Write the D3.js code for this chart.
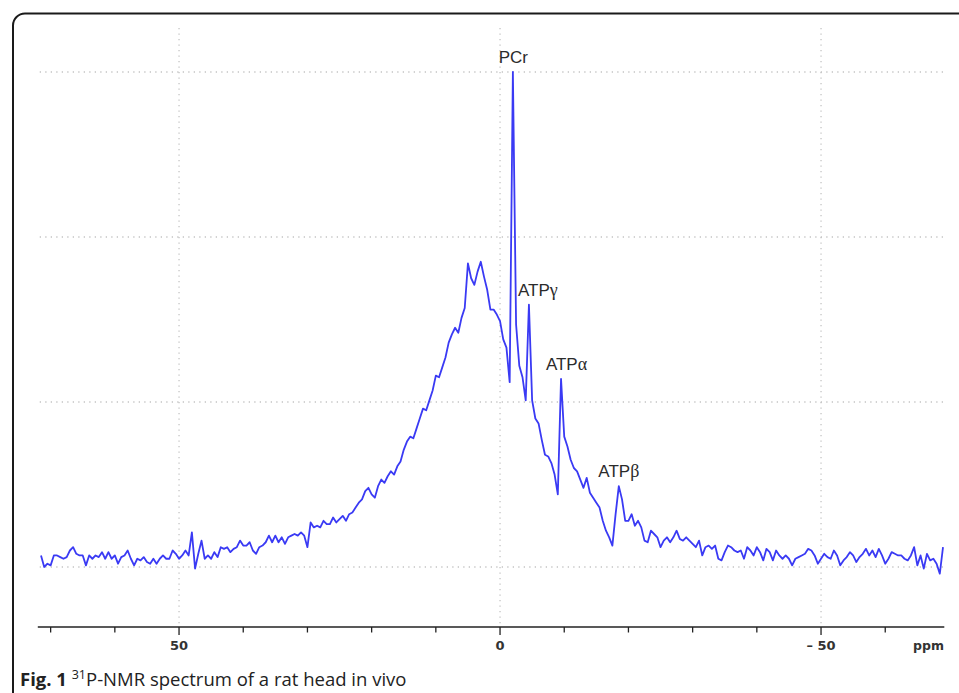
<!DOCTYPE html>
<html>
<head>
<meta charset="utf-8">
<script src="https://cdn.jsdelivr.net/npm/d3@7"></script>
<style>
  html, body { margin: 0; padding: 0; background: #fff; }
  svg { display: block; }
</style>
</head>
<body>
<svg id="chart" width="959" height="693"></svg>
<script>
// ---- data ----
// spectrum sampled every 0.5 ppm, starting at 71.5 ppm (arbitrary intensity units)
const ppmStart = 71.5;
const ppmStep = -0.5;
const intensity = [
  7,0,2,1,7,7,6,5,6,10,
  12,8,7,7,1,7,5,7,6,9,
  5,9,5,7,2,6,7,10,5,1,
  5,4,6,3,2,5,2,5,7,5,
  5,10,8,5,7,10,7,21,-1,8,
  16,5,7,5,9,6,12,11,12,9,
  11,12,16,13,13,15,10,8,12,13,
  15,19,15,19,15,18,14,18,19,20,
  19,21,19,12,27,24,25,24,28,26,
  26,30,27,29,31,28,32,33,36,39,
  41,46,48,44,42,49,53,51,55,58,
  56,61,64,71,76,79,78,84,90,96,
  95,101,107,116,115,121,127,136,141,145,
  142,151,157,184,175,171,179,185,176,168,
  156,156,153,149,138,133,112,300,147,122,
  115,101,159,101,90,87,77,68,67,63,
  56,44,114,79,73,65,60,58,53,48,
  54,45,42,39,36,28,22,18,13,32,
  49,41,28,28,32,25,28,24,16,15,
  22,20,18,12,16,18,15,18,22,17,
  16,18,16,14,12,16,7,12,13,11,
  13,5,4,9,13,12,10,9,10,5,
  12,10,7,12,9,4,11,9,4,10,
  7,5,7,5,1,5,6,7,8,11,
  10,7,2,5,8,6,5,10,7,1,
  4,6,9,7,3,6,8,11,7,10,
  6,11,7,2,5,9,8,7,7,5,
  4,7,12,1,7,-1,8,4,5,2,
  -4,12
];
const xTicks = [70, 60, 50, 40, 30, 20, 10, 0, -10, -20, -30, -40, -50, -60];
const xTickLabels = { "50": "50", "0": "0", "-50": "\u2013 50" };
const xGrid = [50, 0, -50];
const yGrid = [0, 100, 200, 300];
const peakNames = ["PCr", "ATP", "ATP", "ATP"];
const peakGreek = ["", "\u03b3", "\u03b1", "\u03b2"];
const peakPpm = [-2.0, -4.5, -9.5, -18.5];
const axisUnit = "ppm";
const captionBold = "Fig. 1";
const captionSup = "31";
const captionText = "P-NMR spectrum of a rat head in vivo";

// ---- build ----
const data = intensity.map((v, i) => ({ ppm: ppmStart + i * ppmStep, v }));

const svg = d3.select("#chart");

// frame
svg.append("rect")
  .attr("x", 13).attr("y", 13.5)
  .attr("width", 1000).attr("height", 760)
  .attr("rx", 12).attr("ry", 12)
  .attr("fill", "none").attr("stroke", "#1a1a1a").attr("stroke-width", 2);

const x = d3.scaleLinear().domain([72, -69.2]).range([37.8, 944.3]);
const y = d3.scaleLinear().domain([0, 300]).range([567, 72]);
const axisY = 627;
const plotTop = 28;

// grid
const gridColor = "#c4c4c4";
svg.append("g").selectAll("line").data(yGrid).join("line")
  .attr("x1", x(71.7)).attr("x2", x(-69.2))
  .attr("y1", d => y(d)).attr("y2", d => y(d))
  .attr("stroke", gridColor).attr("stroke-width", 1.3)
  .attr("stroke-dasharray", "1.3,4.2");
svg.append("g").selectAll("line").data(xGrid).join("line")
  .attr("x1", d => x(d)).attr("x2", d => x(d))
  .attr("y1", plotTop).attr("y2", axisY)
  .attr("stroke", gridColor).attr("stroke-width", 1.3)
  .attr("stroke-dasharray", "1.3,4.2");

// spectrum
const line = d3.line().x(d => x(d.ppm)).y(d => y(d.v)).curve(d3.curveLinear);
svg.append("path").datum(data)
  .attr("d", line)
  .attr("fill", "none")
  .attr("stroke", "#3a3af4")
  .attr("stroke-width", 1.8)
  .attr("stroke-linejoin", "round");

// x axis
const ax = svg.append("g");
ax.append("line")
  .attr("x1", x(72)).attr("x2", x(-69.2))
  .attr("y1", axisY).attr("y2", axisY)
  .attr("stroke", "#222").attr("stroke-width", 1.3);
ax.selectAll("line.tick").data(xTicks).join("line")
  .attr("class", "tick")
  .attr("x1", d => x(d)).attr("x2", d => x(d))
  .attr("y1", axisY).attr("y2", d => axisY + (d % 50 === 0 ? 8 : 5.5))
  .attr("stroke", "#222").attr("stroke-width", 1.3);
ax.selectAll("text.tl").data(xTicks.filter(d => xTickLabels[String(d)] !== undefined)).join("text")
  .attr("class", "tl")
  .attr("x", d => x(d) + (d < 0 ? 14.5 : 0))
  .attr("y", 650)
  .attr("text-anchor", d => d < 0 ? "end" : "middle")
  .attr("font-family", "DejaVu Sans, Verdana, sans-serif")
  .attr("font-weight", "bold")
  .attr("font-size", 13)
  .attr("fill", "#333")
  .text(d => xTickLabels[String(d)]);
ax.append("text")
  .attr("x", 944).attr("y", 650)
  .attr("text-anchor", "end")
  .attr("font-family", "DejaVu Sans, Verdana, sans-serif")
  .attr("font-weight", "bold")
  .attr("font-size", 12.5)
  .attr("fill", "#333")
  .text(axisUnit);

// peak labels
const labelDx = [0.5, 9, 5.5, 0];
peakNames.forEach((name, i) => {
  const pIdx = data.findIndex(d => Math.abs(d.ppm - peakPpm[i]) < 1e-6);
  const pv = data[pIdx].v;
  const t = svg.append("text")
    .attr("x", x(peakPpm[i]) + labelDx[i])
    .attr("y", y(pv) - 9)
    .attr("text-anchor", "middle")
    .attr("font-family", "Liberation Sans, Arial, sans-serif")
    .attr("font-size", 17)
    .attr("fill", "#2b2b2b");
  t.append("tspan").text(name);
  if (peakGreek[i]) {
    t.append("tspan")
      .attr("font-family", "Liberation Serif, Times New Roman, serif")
      .attr("font-size", 18)
      .text(peakGreek[i]);
  }
});

// caption
const cap = svg.append("text")
  .attr("x", 20).attr("y", 686)
  .attr("font-family", "Open Sans, Noto Sans, sans-serif")
  .attr("font-size", 18.5)
  .attr("fill", "#222");
cap.append("tspan").attr("font-weight", "bold").text(captionBold + " ");
cap.append("tspan").attr("font-size", 12.5).attr("dy", -7).text(captionSup);
cap.append("tspan").attr("dy", 7).text(captionText);
</script>
</body>
</html>
